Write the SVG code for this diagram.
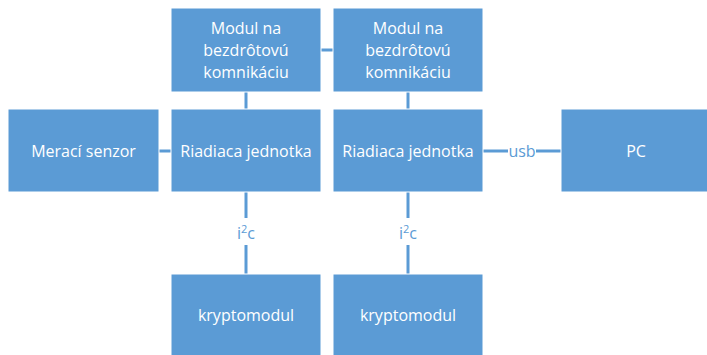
<svg xmlns="http://www.w3.org/2000/svg" width="707" height="355" viewBox="0 0 707 355">
<style>
.box{fill:#5B9BD5;stroke:#ffffff;stroke-width:1}
.t{font-family:"Open Sans","Noto Sans",sans-serif;font-size:16px;fill:#ffffff;text-anchor:middle}
.l{font-family:"Open Sans","Noto Sans",sans-serif;font-size:16px;fill:#5B9BD5;text-anchor:middle}
.c{stroke:#5B9BD5;stroke-width:3;fill:none}
</style>
<rect width="707" height="355" fill="#ffffff"/>
<g id="connectors">
<line class="c" x1="321" y1="50" x2="333" y2="50"/>
<line class="c" x1="246" y1="92" x2="246" y2="109"/>
<line class="c" x1="408" y1="92" x2="408" y2="109"/>
<line class="c" x1="159" y1="151" x2="171" y2="151"/>
<line class="c" x1="483" y1="151" x2="508" y2="151"/>
<line class="c" x1="536" y1="151" x2="561" y2="151"/>
<line class="c" x1="246" y1="192" x2="246" y2="218"/>
<line class="c" x1="246" y1="245" x2="246" y2="274"/>
<line class="c" x1="408" y1="192" x2="408" y2="218"/>
<line class="c" x1="408" y1="245" x2="408" y2="274"/>
<text class="l" x="522" y="157">usb</text>
<text class="l" x="246" y="239">i<tspan font-size="11" dy="-6">2</tspan><tspan dy="6">c</tspan></text>
<text class="l" x="408" y="239">i<tspan font-size="11" dy="-6">2</tspan><tspan dy="6">c</tspan></text>
</g>
<g id="modul1"><rect class="box" x="171" y="8" width="150" height="84"/>
<text class="t" x="246" y="34">Modul na</text><text class="t" x="246" y="56">bezdrôtovú</text><text class="t" x="246" y="78">komnikáciu</text></g>
<g id="modul2"><rect class="box" x="333" y="8" width="150" height="84"/>
<text class="t" x="408" y="34">Modul na</text><text class="t" x="408" y="56">bezdrôtovú</text><text class="t" x="408" y="78">komnikáciu</text></g>
<g id="senzor"><rect class="box" x="8" y="109" width="151" height="83"/>
<text class="t" x="83.5" y="157">Merací senzor</text></g>
<g id="riadiaca1"><rect class="box" x="171" y="109" width="150" height="83"/>
<text class="t" x="246" y="157">Riadiaca jednotka</text></g>
<g id="riadiaca2"><rect class="box" x="333" y="109" width="150" height="83"/>
<text class="t" x="408" y="157">Riadiaca jednotka</text></g>
<g id="pc"><rect class="box" x="561" y="109" width="150" height="83"/>
<text class="t" x="636" y="157">PC</text></g>
<g id="krypto1"><rect class="box" x="171" y="274" width="150" height="83"/>
<text class="t" x="246" y="321">kryptomodul</text></g>
<g id="krypto2"><rect class="box" x="333" y="274" width="150" height="83"/>
<text class="t" x="408" y="321">kryptomodul</text></g>
</svg>
